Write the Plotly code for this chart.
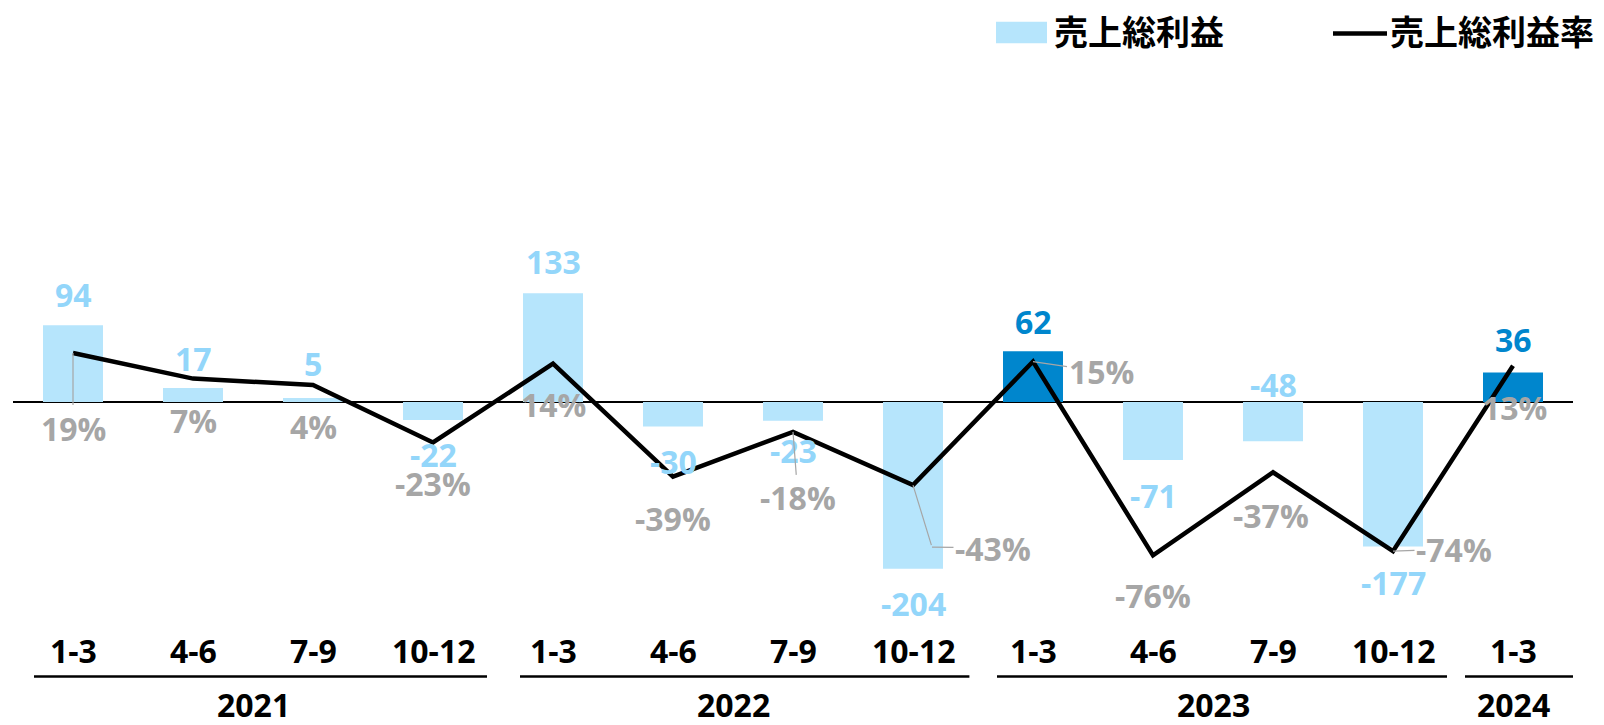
import plotly.graph_objects as go

# ---------------- data ----------------
quarters = ["1-3", "4-6", "7-9", "10-12",
            "1-3", "4-6", "7-9", "10-12",
            "1-3", "4-6", "7-9", "10-12",
            "1-3"]
years = ["2021", "2022", "2023", "2024"]
quarters_per_year = [4, 4, 4, 1]
gross_profit = [94, 17, 5, -22, 133, -30, -23, -204, 62, -71, -48, -177, 36]
gross_margin = [19, 7, 4, -23, 14, -39, -18, -43, 15, -76, -37, -74, 13]
bar_name = "売上総利益"
line_name = "売上総利益率"

# ---------------- styles ----------------
highlight = [False] * 8 + [True] + [False] * 3 + [True]
LIGHT = "#b6e5fc"
DARK = "#0086cd"
LIGHT_TXT = "#93d6fa"
GRAY = "#a6a6a6"
NUM_FONT = "Open Sans, Noto Sans, sans-serif"
CJK_FONT = "Noto Sans CJK JP, sans-serif"
NUM_SIZE = 32

# label offsets (pixels): bar labels shift (up positive); margin labels (dx, dy, leader, elbow)
bar_label_shift = [31, 30, 34, -35, 32, -35, -30, -35, 30, -35, 57, -36, 33]
pct_label_off = [(0, 75, "line", None), (0, 42, None, None), (0, 42, None, None),
                 (0, 41, None, None), (0, 41, None, None), (0, 42, None, None),
                 (5, 66, "line", None), (80, 63, "elbow", (19, 62)),
                 (68, 10, "line", None), (0, 40, None, None), (-2, 43, None, None),
                 (61, -2, "line", None), (1, 42, None, None)]
# group underline extents relative to first / last quarter index
underline_pad = [(-0.325, 0.45), (-0.275, 0.47), (-0.3, 0.45), (-0.4, 0.53)]

W, H = 1604, 725
ML, MR, MT, MB = 13, 31, 60, 125
PW = W - ML - MR
PH = H - MT - MB

x = list(range(len(quarters)))

fig = go.Figure()
fig.add_trace(go.Bar(
    x=x, y=gross_profit, name=bar_name,
    marker=dict(color=[DARK if h else LIGHT for h in highlight], line=dict(width=0)),
    width=0.5, showlegend=False, hoverinfo="y",
))
fig.add_trace(go.Scatter(
    x=x, y=gross_margin, name=line_name, yaxis="y2", mode="lines",
    line=dict(color="black", width=4.5), showlegend=False,
))

ann = []
# bar value labels
for i, v in enumerate(gross_profit):
    col = DARK if highlight[i] else LIGHT_TXT
    ann.append(dict(x=i, y=v, xref="x", yref="y", text=str(v), showarrow=False,
                    yshift=bar_label_shift[i], yanchor="middle",
                    font=dict(family=NUM_FONT, size=NUM_SIZE, color=col, weight="bold")))
# margin labels
for i, v in enumerate(gross_margin):
    dx, dy, leader, elbow = pct_label_off[i]
    f = dict(family=NUM_FONT, size=NUM_SIZE, color=GRAY, weight="bold")
    if leader == "line":
        ann.append(dict(x=i, y=v, xref="x", yref="y2", text=f"{v}%", showarrow=True,
                        arrowhead=0, arrowwidth=1.2, arrowcolor=GRAY, ax=dx, ay=dy,
                        standoff=0, font=f))
    elif leader == "elbow":
        ex, ey = elbow
        ann.append(dict(x=i, y=v, xref="x", yref="y2", text=" ", showarrow=True,
                        arrowhead=0, arrowwidth=1.2, arrowcolor=GRAY, ax=ex, ay=ey,
                        standoff=0, font=dict(size=1, color="white")))
        ann.append(dict(x=i, y=v, xref="x", yref="y2", text=f"{v}%", showarrow=True,
                        xshift=ex, yshift=-ey,
                        arrowhead=0, arrowwidth=1.2, arrowcolor=GRAY, ax=dx - ex,
                        ay=dy - ey, standoff=0, font=f))
    else:
        ann.append(dict(x=i, y=v, xref="x", yref="y2", text=f"{v}%", showarrow=False,
                        xshift=dx, yshift=-dy, yanchor="middle", font=f))
# category labels
for i, q in enumerate(quarters):
    ann.append(dict(x=i, y=0, xref="x", yref="paper", text=q, showarrow=False,
                    yanchor="middle", yshift=-50,
                    font=dict(family=NUM_FONT, size=NUM_SIZE, color="black", weight="bold")))
# year labels and group underlines
shapes = []
start = 0
uy = -(676.5 - (MT + PH)) / PH
for yr, n, (p0, p1) in zip(years, quarters_per_year, underline_pad):
    end = start + n - 1
    ann.append(dict(x=(start + end) / 2, y=0, xref="x", yref="paper", text=yr,
                    showarrow=False, yanchor="middle", yshift=-104,
                    font=dict(family=NUM_FONT, size=32, color="black", weight="bold")))
    shapes.append(dict(type="line", xref="x", yref="paper",
                       x0=start + p0, x1=end + p1, y0=uy, y1=uy,
                       line=dict(color="black", width=2.5)))
    start += n

# manual legend
def px2x(px):
    return (px - ML) / PW

def py2y(py):
    return (MT + PH - py) / PH

shapes.append(dict(type="rect", xref="paper", yref="paper",
                   x0=px2x(996), x1=px2x(1047), y0=py2y(43.3), y1=py2y(21.7),
                   fillcolor=LIGHT, line=dict(width=0)))
ann.append(dict(x=px2x(1052), y=py2y(31), xref="paper", yref="paper", text=bar_name,
                showarrow=False, xanchor="left", yanchor="middle",
                font=dict(family=CJK_FONT, size=34, color="black", weight="bold")))
shapes.append(dict(type="line", xref="paper", yref="paper",
                   x0=px2x(1333), x1=px2x(1387), y0=py2y(33.5), y1=py2y(33.5),
                   line=dict(color="black", width=4.5)))
ann.append(dict(x=px2x(1388), y=py2y(31), xref="paper", yref="paper", text=line_name,
                showarrow=False, xanchor="left", yanchor="middle",
                font=dict(family=CJK_FONT, size=34, color="black", weight="bold")))

# axis ranges: zero of bars at y=402px, 0.817 px per unit; margin zero at 393.5px, 2.13 px per %
k1, z1 = 0.817, 402
k2, z2 = 2.13, 393.5
fig.update_layout(
    width=W, height=H,
    margin=dict(l=ML, r=MR, t=MT, b=MB),
    paper_bgcolor="white", plot_bgcolor="white",
    xaxis=dict(range=[-0.5, len(quarters) - 0.5], showgrid=False, showticklabels=False,
               zeroline=False, showline=False, fixedrange=True),
    yaxis=dict(range=[-(MT + PH - z1) / k1, (z1 - MT) / k1], showgrid=False,
               showticklabels=False, zeroline=True, zerolinecolor="black",
               zerolinewidth=2, showline=False),
    yaxis2=dict(range=[-(MT + PH - z2) / k2, (z2 - MT) / k2], overlaying="y",
                side="right", showgrid=False, showticklabels=False, zeroline=False,
                showline=False),
    annotations=ann, shapes=shapes, bargap=0.5,
)

fig.write_html("out.html", config={"displayModeBar": False},
               post_script="document.body.style.margin='0';")
